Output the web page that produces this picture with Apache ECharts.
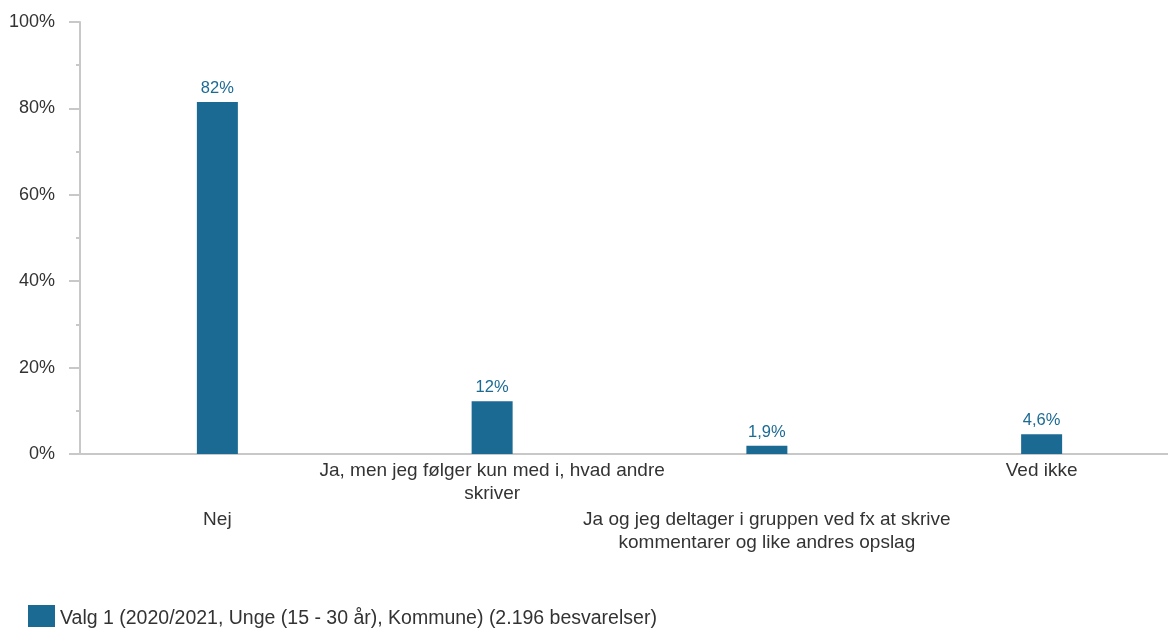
<!DOCTYPE html>
<html>
<head>
<meta charset="utf-8">
<script src="https://cdn.jsdelivr.net/npm/echarts@6/dist/echarts.min.js"></script>
<style>html,body{margin:0;padding:0;background:#fff}#c{width:1168px;height:628px}</style>
</head>
<body>
<div id="c"></div>
<script>
const categories = [
  'Nej',
  'Ja, men jeg følger kun med i, hvad andre\nskriver',
  'Ja og jeg deltager i gruppen ved fx at skrive\nkommentarer og like andres opslag',
  'Ved ikke'
];
const values = [81.5, 12.2, 1.9, 4.6];
const seriesName = 'Valg 1 (2020/2021, Unge (15 - 30 år), Kommune) (2.196 besvarelser)';
const yTicks = [0, 20, 40, 60, 80, 100];

const font = 'Liberation Sans, Arial, sans-serif';
const barColor = '#1b6a94';
const axisColor = '#c8c8c8';

const chart = echarts.init(document.getElementById('c'));
chart.setOption({
  animation: false,
  textStyle: { fontFamily: font },
  grid: { left: 80, top: 22, width: 1099, bottom: 174, containLabel: false, outerBoundsMode: 'none' },
  legend: {
    left: 23, top: 600, itemWidth: 27, itemHeight: 22, itemGap: 5,
    icon: 'rect',
    formatter: name => '{t|' + name + '}',
    textStyle: {
      fontSize: 19.5, color: '#333', fontFamily: font,
      rich: { t: { fontSize: 19.5, color: '#333', fontFamily: font, padding: [5, 0, 0, 0] } }
    },
    data: [seriesName]
  },
  xAxis: {
    type: 'category',
    data: categories,
    axisLine: { lineStyle: { color: axisColor, width: 2 } },
    axisTick: { show: false },
    axisLabel: {
      interval: 0,
      margin: 5,
      fontSize: 19,
      color: '#333',
      lineHeight: 23,
      align: 'center',
      rich: { g: { lineHeight: 49, fontSize: 1 } },
      formatter: function (v, i) { return (i % 2 === 0 ? '{g| }\n' : '') + v; }
    }
  },
  yAxis: {
    type: 'value',
    min: yTicks[0],
    max: yTicks[yTicks.length - 1],
    interval: 20,
    axisLine: { show: true, lineStyle: { color: axisColor, width: 2 } },
    axisTick: { show: true, length: 11, lineStyle: { color: axisColor, width: 2 } },
    minorTick: { show: true, splitNumber: 2, length: 4, lineStyle: { color: axisColor, width: 2 } },
    splitLine: { show: false },
    axisLabel: { margin: 25, fontSize: 18, color: '#333', formatter: v => v + '%' }
  },
  series: [{
    name: seriesName,
    type: 'bar',
    data: values,
    barWidth: 41,
    itemStyle: { color: barColor },
    label: {
      show: true,
      position: 'top',
      distance: 5,
      fontSize: 16.5,
      color: barColor,
      formatter: p => (p.value >= 10 ? Math.round(p.value) : p.value.toFixed(1).replace('.', ',')) + '%'
    }
  }]
});
</script>
</body>
</html>
